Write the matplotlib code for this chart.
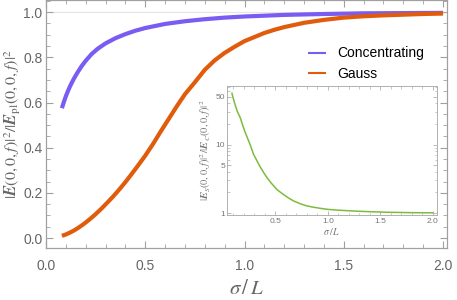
import matplotlib
matplotlib.use('Agg')
import matplotlib.pyplot as plt
from matplotlib.ticker import MultipleLocator, FixedLocator, NullFormatter

plt.rcParams['mathtext.fontset'] = 'stix'
plt.rcParams['font.family'] = ['Liberation Sans', 'DejaVu Sans']

# main curves
sigma_conc = [0.08, 0.09, 0.10, 0.11, 0.12, 0.13, 0.14, 0.16, 0.18, 0.20, 0.23, 0.26,
              0.30, 0.35, 0.40, 0.45, 0.50, 0.60, 0.70, 0.80, 0.90, 1.00, 1.20, 1.40,
              1.60, 1.80, 2.00]
conc = [0.575, 0.603, 0.628, 0.650, 0.670, 0.688, 0.705, 0.735, 0.762, 0.785, 0.815,
        0.838, 0.862, 0.885, 0.903, 0.918, 0.930, 0.948, 0.960, 0.969, 0.976, 0.981,
        0.988, 0.992, 0.995, 0.996, 0.997]

sigma_gauss = [0.08, 0.10, 0.12, 0.14, 0.16, 0.18, 0.20, 0.22, 0.25, 0.28, 0.31, 0.34,
               0.37, 0.40, 0.43, 0.46, 0.50, 0.54, 0.58, 0.62, 0.66, 0.70, 0.75, 0.80,
               0.85, 0.90, 0.95, 1.00, 1.10, 1.15, 1.20, 1.30, 1.40, 1.50, 1.60, 1.70,
               1.80, 1.90, 2.00]
gauss = [0.010, 0.016, 0.024, 0.033, 0.044, 0.056, 0.069, 0.083, 0.106, 0.131, 0.158,
         0.186, 0.216, 0.248, 0.282, 0.317, 0.365, 0.418, 0.475, 0.530, 0.585, 0.637,
         0.690, 0.745, 0.787, 0.820, 0.847, 0.872, 0.908, 0.922, 0.934, 0.953, 0.966,
         0.976, 0.982, 0.986, 0.989, 0.992, 0.994]

# inset ratio curve
sigma_ratio = [0.087, 0.10, 0.12, 0.14, 0.167, 0.19, 0.21, 0.23, 0.26, 0.293, 0.32,
               0.35, 0.389, 0.42, 0.46, 0.516, 0.56, 0.62, 0.674, 0.74, 0.80, 0.87,
               0.93, 1.00, 1.10, 1.24, 1.40, 1.57, 1.80, 2.00]
ratio = [56.0, 47.0, 37.0, 30.0, 24.5, 19.0, 15.5, 13.0, 10.0, 7.2, 6.0,
         4.9, 3.9, 3.3, 2.75, 2.2, 1.95, 1.68, 1.5, 1.36, 1.27, 1.21,
         1.17, 1.13, 1.10, 1.07, 1.045, 1.025, 1.012, 1.006]

c_conc = '#7a5cf2'
c_gauss = '#e05c0c'
c_ratio = '#7cbc3c'
frame = '#a0a0a0'
txt = '#666666'

fig = plt.figure(figsize=(4.57, 3.0), dpi=100)
ax = fig.add_axes([0.1007, 0.1733, 0.8774, 0.8267])

ax.axhline(1.0, color='#e4e4e4', lw=0.8, zorder=0)
ax.plot(sigma_conc, conc, color=c_conc, lw=3, label='Concentrating', solid_capstyle='butt')
ax.plot(sigma_gauss, gauss, color=c_gauss, lw=3, label='Gauss', solid_capstyle='butt')

ax.set_xlim(0, 2.02)
ax.set_ylim(-0.044, 1.054)
ax.xaxis.set_major_locator(MultipleLocator(0.5))
ax.xaxis.set_minor_locator(MultipleLocator(0.1))
ax.yaxis.set_major_locator(FixedLocator([0.0, 0.2, 0.4, 0.6, 0.8, 1.0]))
ax.yaxis.set_minor_locator(MultipleLocator(0.05))
ax.xaxis.set_major_formatter(plt.FuncFormatter(lambda v, p: f'{v:.1f}'))
ax.yaxis.set_major_formatter(plt.FuncFormatter(lambda v, p: f'{v:.1f}'))
for s in ax.spines.values():
    s.set_color(frame)
    s.set_linewidth(0.9)
ax.tick_params(which='both', direction='in', top=True, right=True, color=frame,
               labelcolor=txt, labelsize=10)
ax.tick_params(which='major', length=5, width=0.8)
ax.tick_params(which='minor', length=3, width=0.6)
ax.tick_params(axis='x', pad=8)
ax.tick_params(axis='y', pad=2.5)

ax.set_xlabel(r'$\sigma\,/\,L$', fontsize=15, color=txt, labelpad=4)
ax.set_ylabel(r'$|\boldsymbol{E}(0,0,f)|^2/|\boldsymbol{E}_{\rm pl}(0,0,f)|^2$',
              fontsize=11.5, color=txt)
ax.yaxis.set_label_coords(-0.058, 0.5)

leg = ax.legend(loc='upper left', bbox_to_anchor=(0.64, 0.835), frameon=False,
                fontsize=10, handlelength=1.3, handletextpad=0.8, labelspacing=0.45,
                borderaxespad=0)
for h in leg.get_lines():
    h.set_linewidth(1.5)

# inset
ins = fig.add_axes([0.4967, 0.2833, 0.4595, 0.43])
ins.plot(sigma_ratio, ratio, color=c_ratio, lw=1.1)
ins.set_yscale('log')
ins.set_xlim(0.04, 2.04)
ins.set_ylim(0.935, 71.5)
ins.xaxis.set_major_locator(FixedLocator([0.5, 1.0, 1.5, 2.0]))
ins.xaxis.set_minor_locator(MultipleLocator(0.1))
ins.yaxis.set_major_locator(FixedLocator([1, 5, 10, 50]))
ins.yaxis.set_major_formatter(plt.FuncFormatter(lambda v, p: f'{v:g}'))
ins.yaxis.set_minor_formatter(NullFormatter())
ins.xaxis.set_major_formatter(plt.FuncFormatter(lambda v, p: f'{v:.1f}'))
for s in ins.spines.values():
    s.set_color('#b0b0b0')
    s.set_linewidth(0.7)
ins.tick_params(which='both', direction='in', top=True, right=True, color='#b0b0b0',
                labelcolor='#777777', labelsize=6)
ins.tick_params(which='major', length=3, width=0.6)
ins.tick_params(which='minor', length=1.8, width=0.5)
ins.tick_params(axis='x', pad=2)
ins.tick_params(axis='y', pad=1.5)
ins.set_xlabel(r'$\sigma\,/\,L$', fontsize=7, color='#777777', labelpad=1)
ins.set_ylabel(r'$|\boldsymbol{E}_S(0,0,f)|^2/|\boldsymbol{E}_C(0,0,f)|^2$',
               fontsize=7.5, color='#777777', labelpad=2)

fig.savefig('out.png', dpi=100)
